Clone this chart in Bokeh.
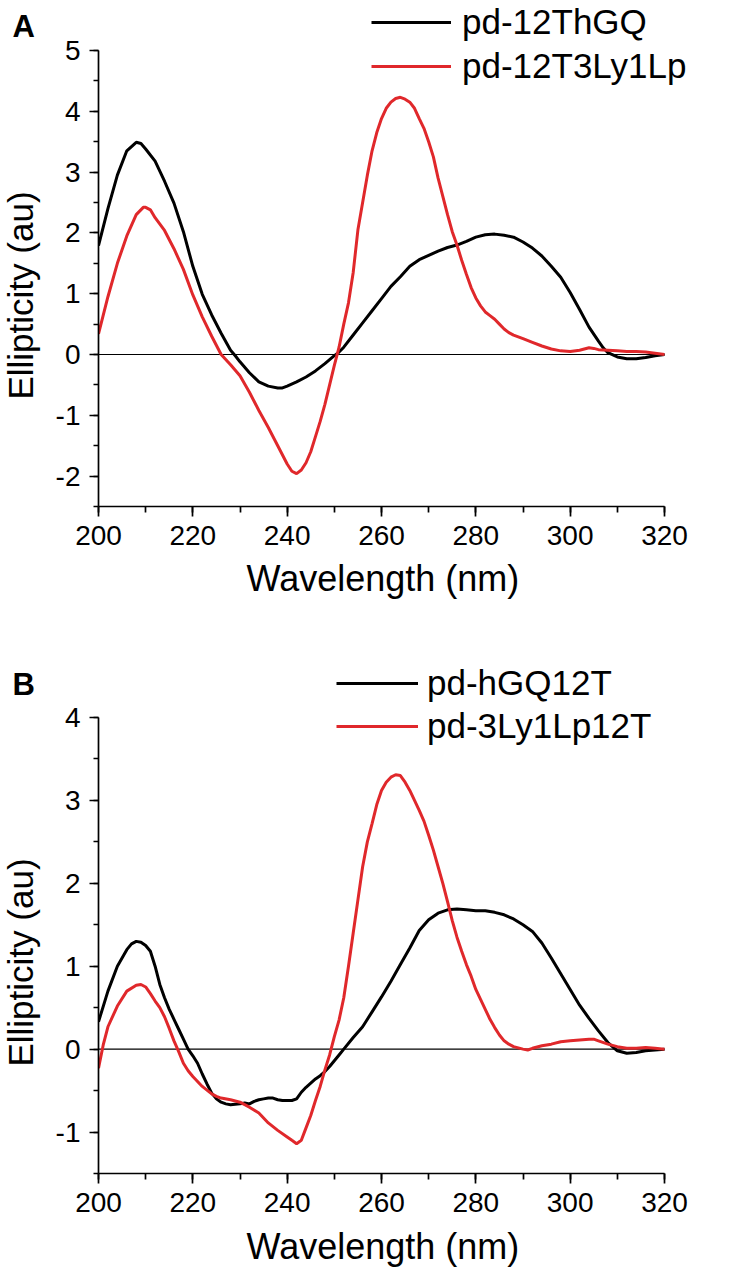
from bokeh.plotting import figure
from bokeh.models import (Range1d, SingleIntervalTicker, Legend, LegendItem, Label, Title)
from bokeh.layouts import column, row
from bokeh.embed import file_html
from bokeh.resources import INLINE
import math

# ---------------- data ----------------
wl_a_black = [200, 202, 204, 206, 208, 209, 210, 212, 214, 216, 218, 220, 222, 224, 226, 228, 229, 230, 232, 234,
              236, 238, 239, 240, 242, 244, 246, 248, 250, 251, 252, 254, 256, 258, 260, 262, 264, 266, 268, 270,
              272, 274, 276, 278, 280, 282, 284, 286, 288, 290, 292, 294, 296, 298, 300, 302, 304, 306, 307, 308,
              310, 312, 314, 316, 318, 320]
a_black = [1.79, 2.40, 2.95, 3.35, 3.49, 3.47, 3.38, 3.18, 2.85, 2.49, 2.02, 1.45, 0.99, 0.65, 0.35, 0.07, -0.02, -0.12, -0.30, -0.45,
           -0.52, -0.55, -0.55, -0.52, -0.45, -0.37, -0.27, -0.15, -0.02, 0.04, 0.12, 0.32, 0.52, 0.72, 0.92, 1.12, 1.28, 1.45, 1.56, 1.63,
           1.70, 1.76, 1.80, 1.86, 1.93, 1.97, 1.98, 1.96, 1.93, 1.85, 1.75, 1.62, 1.45, 1.27, 1.02, 0.74, 0.45, 0.22, 0.11, 0.03,
           -0.04, -0.07, -0.07, -0.05, -0.02, 0.00]

wl_a_red = [200, 202, 204, 206, 208, 209.5, 210, 211, 212, 214, 216, 218, 220, 222, 224, 226, 228, 230, 232, 234,
            236, 238, 240, 241, 242, 243, 244, 245, 246, 247, 248, 249, 250, 251, 252, 253, 254, 255, 256, 257,
            258, 259, 260, 261, 262, 263, 264, 265, 266, 267, 268, 269, 270, 271, 272, 273, 274, 275, 276, 277,
            278, 279, 280, 281, 282, 283, 284, 285, 286, 287, 288, 290, 292, 294, 296, 298, 300, 302, 304, 305,
            306, 308, 310, 312, 314, 316, 318, 320]
a_red = [0.34, 0.95, 1.50, 1.95, 2.30, 2.42, 2.42, 2.38, 2.25, 2.04, 1.74, 1.40, 0.98, 0.62, 0.30, 0.00, -0.17, -0.35, -0.62, -0.92,
         -1.20, -1.50, -1.80, -1.92, -1.96, -1.90, -1.78, -1.60, -1.35, -1.10, -0.82, -0.50, -0.18, 0.12, 0.50, 0.85, 1.35, 2.05, 2.50, 2.95,
         3.35, 3.65, 3.88, 4.05, 4.15, 4.21, 4.23, 4.20, 4.15, 4.05, 3.88, 3.72, 3.50, 3.25, 2.90, 2.60, 2.30, 2.02, 1.80, 1.55,
         1.32, 1.10, 0.93, 0.80, 0.70, 0.64, 0.58, 0.50, 0.42, 0.36, 0.32, 0.26, 0.20, 0.14, 0.09, 0.06, 0.05, 0.07, 0.11, 0.10,
         0.08, 0.07, 0.06, 0.05, 0.05, 0.04, 0.02, 0.00]

wl_b_black = [200, 202, 204, 206, 207, 208, 209, 210, 211, 212, 213, 214, 215, 216, 217, 218, 219, 220, 221, 222,
              223, 224, 225, 226, 227, 228, 230, 231, 232, 233, 234, 235, 236, 237, 238, 239, 240, 241, 242, 243,
              244, 245, 246, 247, 248, 249, 250, 251, 252, 254, 256, 258, 260, 262, 264, 266, 268, 270, 272, 274,
              276, 278, 280, 282, 284, 286, 288, 290, 292, 294, 296, 298, 300, 302, 304, 306, 308, 310, 312, 314,
              316, 318, 320]
b_black = [0.33, 0.70, 1.00, 1.20, 1.27, 1.30, 1.29, 1.25, 1.18, 1.00, 0.78, 0.62, 0.48, 0.36, 0.24, 0.12, 0.00, -0.08, -0.17, -0.30,
           -0.42, -0.53, -0.60, -0.64, -0.66, -0.67, -0.66, -0.65, -0.66, -0.63, -0.61, -0.60, -0.59, -0.59, -0.61, -0.62, -0.62, -0.62, -0.60, -0.52,
           -0.46, -0.41, -0.36, -0.32, -0.27, -0.21, -0.14, -0.07, 0.00, 0.14, 0.27, 0.45, 0.63, 0.82, 1.02, 1.22, 1.43, 1.56, 1.64, 1.68,
           1.69, 1.68, 1.67, 1.67, 1.65, 1.62, 1.57, 1.50, 1.42, 1.28, 1.10, 0.91, 0.72, 0.53, 0.37, 0.22, 0.08, -0.02, -0.05, -0.04,
           -0.02, -0.01, 0.00]

wl_b_red = [200, 201, 202, 204, 206, 208, 209, 210, 211, 212, 213, 214, 215, 216, 217, 218, 219, 220, 222, 224,
            225, 226, 228, 230, 232, 234, 236, 238, 240, 241, 242, 243, 244, 245, 246, 247, 248, 249, 250, 251,
            252, 253, 254, 255, 256, 257, 258, 259, 260, 261, 262, 263, 264, 265, 266, 267, 268, 269, 270, 271,
            272, 273, 274, 275, 276, 277, 278, 279, 280, 281, 282, 283, 284, 285, 286, 287, 288, 290, 291, 292,
            294, 296, 298, 300, 302, 304, 305, 306, 308, 310, 312, 314, 316, 318, 320]
b_red = [-0.23, 0.05, 0.27, 0.52, 0.70, 0.77, 0.78, 0.75, 0.67, 0.58, 0.50, 0.39, 0.25, 0.10, -0.03, -0.17, -0.26, -0.33, -0.45, -0.54,
         -0.57, -0.59, -0.61, -0.64, -0.70, -0.77, -0.89, -0.98, -1.06, -1.10, -1.14, -1.10, -0.95, -0.80, -0.62, -0.45, -0.25, -0.07, 0.15, 0.35,
         0.62, 1.00, 1.40, 1.80, 2.20, 2.50, 2.72, 2.95, 3.12, 3.22, 3.28, 3.31, 3.30, 3.22, 3.12, 3.00, 2.88, 2.75, 2.58, 2.40,
         2.20, 2.00, 1.78, 1.55, 1.35, 1.18, 1.02, 0.88, 0.72, 0.60, 0.48, 0.36, 0.26, 0.17, 0.10, 0.06, 0.03, 0.00, -0.01, 0.01,
         0.04, 0.06, 0.09, 0.10, 0.11, 0.12, 0.12, 0.10, 0.06, 0.03, 0.01, 0.01, 0.02, 0.01, 0.00]

names_a = ["pd-12ThGQ", "pd-12T3Ly1Lp"]
names_b = ["pd-hGQ12T", "pd-3Ly1Lp12T"]
panel_tags = ["A", "B"]
x_title = "Wavelength (nm)"
y_title = "Ellipticity (au)"
x_extent = [200, 320]
y_extent_a = [-2.5, 5]
y_extent_b = [-1.5, 4]

RED = "#e0282b"
FONT = "Liberation Sans"
STRIP_W = 50
MAIN_W = 677
FRAME_W = 629      # frame spans to the right edge; axis drawn only over x_extent
AXIS_PX = 566      # pixel length of the 200-320 axis
AXIS_PY = 456      # pixel height of the y axis


def make_strip(height, bottom, tag, title_y, tag_y):
    s = figure(width=STRIP_W, height=height, output_backend="svg", toolbar_location=None,
               x_axis_type=None, y_axis_type=None, x_range=Range1d(0, 1), y_range=Range1d(0, 1),
               min_border=0, min_border_left=0, min_border_right=0, min_border_top=0,
               min_border_bottom=bottom)
    s.outline_line_color = None
    s.xgrid.visible = False
    s.ygrid.visible = False
    s.add_layout(Label(x=20, y=title_y, x_units="screen", y_units="screen", text=y_title,
                       angle=math.pi / 2, text_align="center", text_baseline="middle",
                       text_font=FONT, text_font_size="35px", text_color="black"))
    s.add_layout(Label(x=12, y=tag_y, x_units="screen", y_units="screen", text=tag,
                       text_align="left", text_baseline="middle",
                       text_font=FONT, text_font_size="31px", text_font_style="bold",
                       text_color="black"))
    return s


def make_panel(wl1, y1, wl2, y2, names, y_ext, height, top_px, bottom,
               leg_x, leg_y, glyph_w, standoff, spacing, title_standoff):
    ppx = AXIS_PX / (x_extent[1] - x_extent[0])
    ppy = AXIS_PY / (y_ext[1] - y_ext[0])
    p = figure(width=MAIN_W, height=height, output_backend="svg", toolbar_location=None,
               x_range=Range1d(x_extent[0], x_extent[0] + FRAME_W / ppx),
               y_range=Range1d(y_ext[0], y_ext[1] + top_px / ppy),
               min_border_left=48, min_border_right=0, min_border_top=0,
               min_border_bottom=bottom)
    p.outline_line_color = None
    p.xgrid.visible = False
    p.ygrid.visible = False
    p.background_fill_color = "white"
    p.border_fill_color = "white"

    p.xaxis.ticker = SingleIntervalTicker(interval=20, num_minor_ticks=2)
    p.yaxis.ticker = SingleIntervalTicker(interval=1, num_minor_ticks=2)
    p.xaxis.bounds = (x_extent[0], x_extent[1])
    p.yaxis.bounds = (y_ext[0], y_ext[1])

    for ax in (p.xaxis[0], p.yaxis[0]):
        ax.axis_line_width = 1.7
        ax.axis_line_color = "black"
        ax.major_tick_line_width = 1.7
        ax.minor_tick_line_width = 1.7
        ax.major_tick_line_color = "black"
        ax.minor_tick_line_color = "black"
        ax.major_tick_in = 0
        ax.minor_tick_in = 0
        ax.major_label_text_font = FONT
        ax.major_label_text_font_size = "28px"
        ax.major_label_text_color = "black"
        ax.axis_label = None
    p.xaxis.major_tick_out = 10
    p.xaxis.minor_tick_out = 6
    p.yaxis.major_tick_out = 9
    p.yaxis.minor_tick_out = 5
    p.xaxis.major_label_standoff = 9
    p.yaxis.major_label_standoff = 9
    p.yaxis.major_label_overrides = {-2: "-2", -1: "-1"}

    p.add_layout(Title(text=x_title, align="left", offset=148, standoff=title_standoff,
                       text_font=FONT, text_font_size="36px", text_font_style="normal",
                       text_color="black"), "below")

    p.line(x_extent, [0, 0], line_color="black", line_width=1.2)
    r1 = p.line(wl1, y1, line_color="black", line_width=3)
    r2 = p.line(wl2, y2, line_color=RED, line_width=3)

    legend = Legend(items=[LegendItem(label=names[0], renderers=[r1]),
                           LegendItem(label=names[1], renderers=[r2])],
                    location=(leg_x, leg_y), orientation="vertical",
                    glyph_width=glyph_w, glyph_height=40, label_height=40,
                    label_standoff=standoff, spacing=spacing, padding=0, margin=0,
                    border_line_color=None, background_fill_alpha=0,
                    label_text_font=FONT, label_text_font_size="35px",
                    label_text_color="black")
    p.add_layout(legend, "center")
    return p


HA, HB = 620, 661
BOT_A, BOT_B = 114, 108
sA = make_strip(HA, BOT_A, panel_tags[0], 211, 480)
pA = make_panel(wl_a_black, a_black, wl_a_red, a_red, names_a, y_extent_a,
                HA, 50, BOT_A, 273, 420, 80, 11, 4, 16)
sB = make_strip(HB, BOT_B, panel_tags[1], 211, 489)
pB = make_panel(wl_b_black, b_black, wl_b_red, b_red, names_b, y_extent_b,
                HB, 97, BOT_B, 238, 427, 82, 9, 3, 18)

layout = column(row(sA, pA, spacing=0), row(sB, pB, spacing=0), spacing=0)
open("out.html", "w").write(file_html(layout, INLINE))
